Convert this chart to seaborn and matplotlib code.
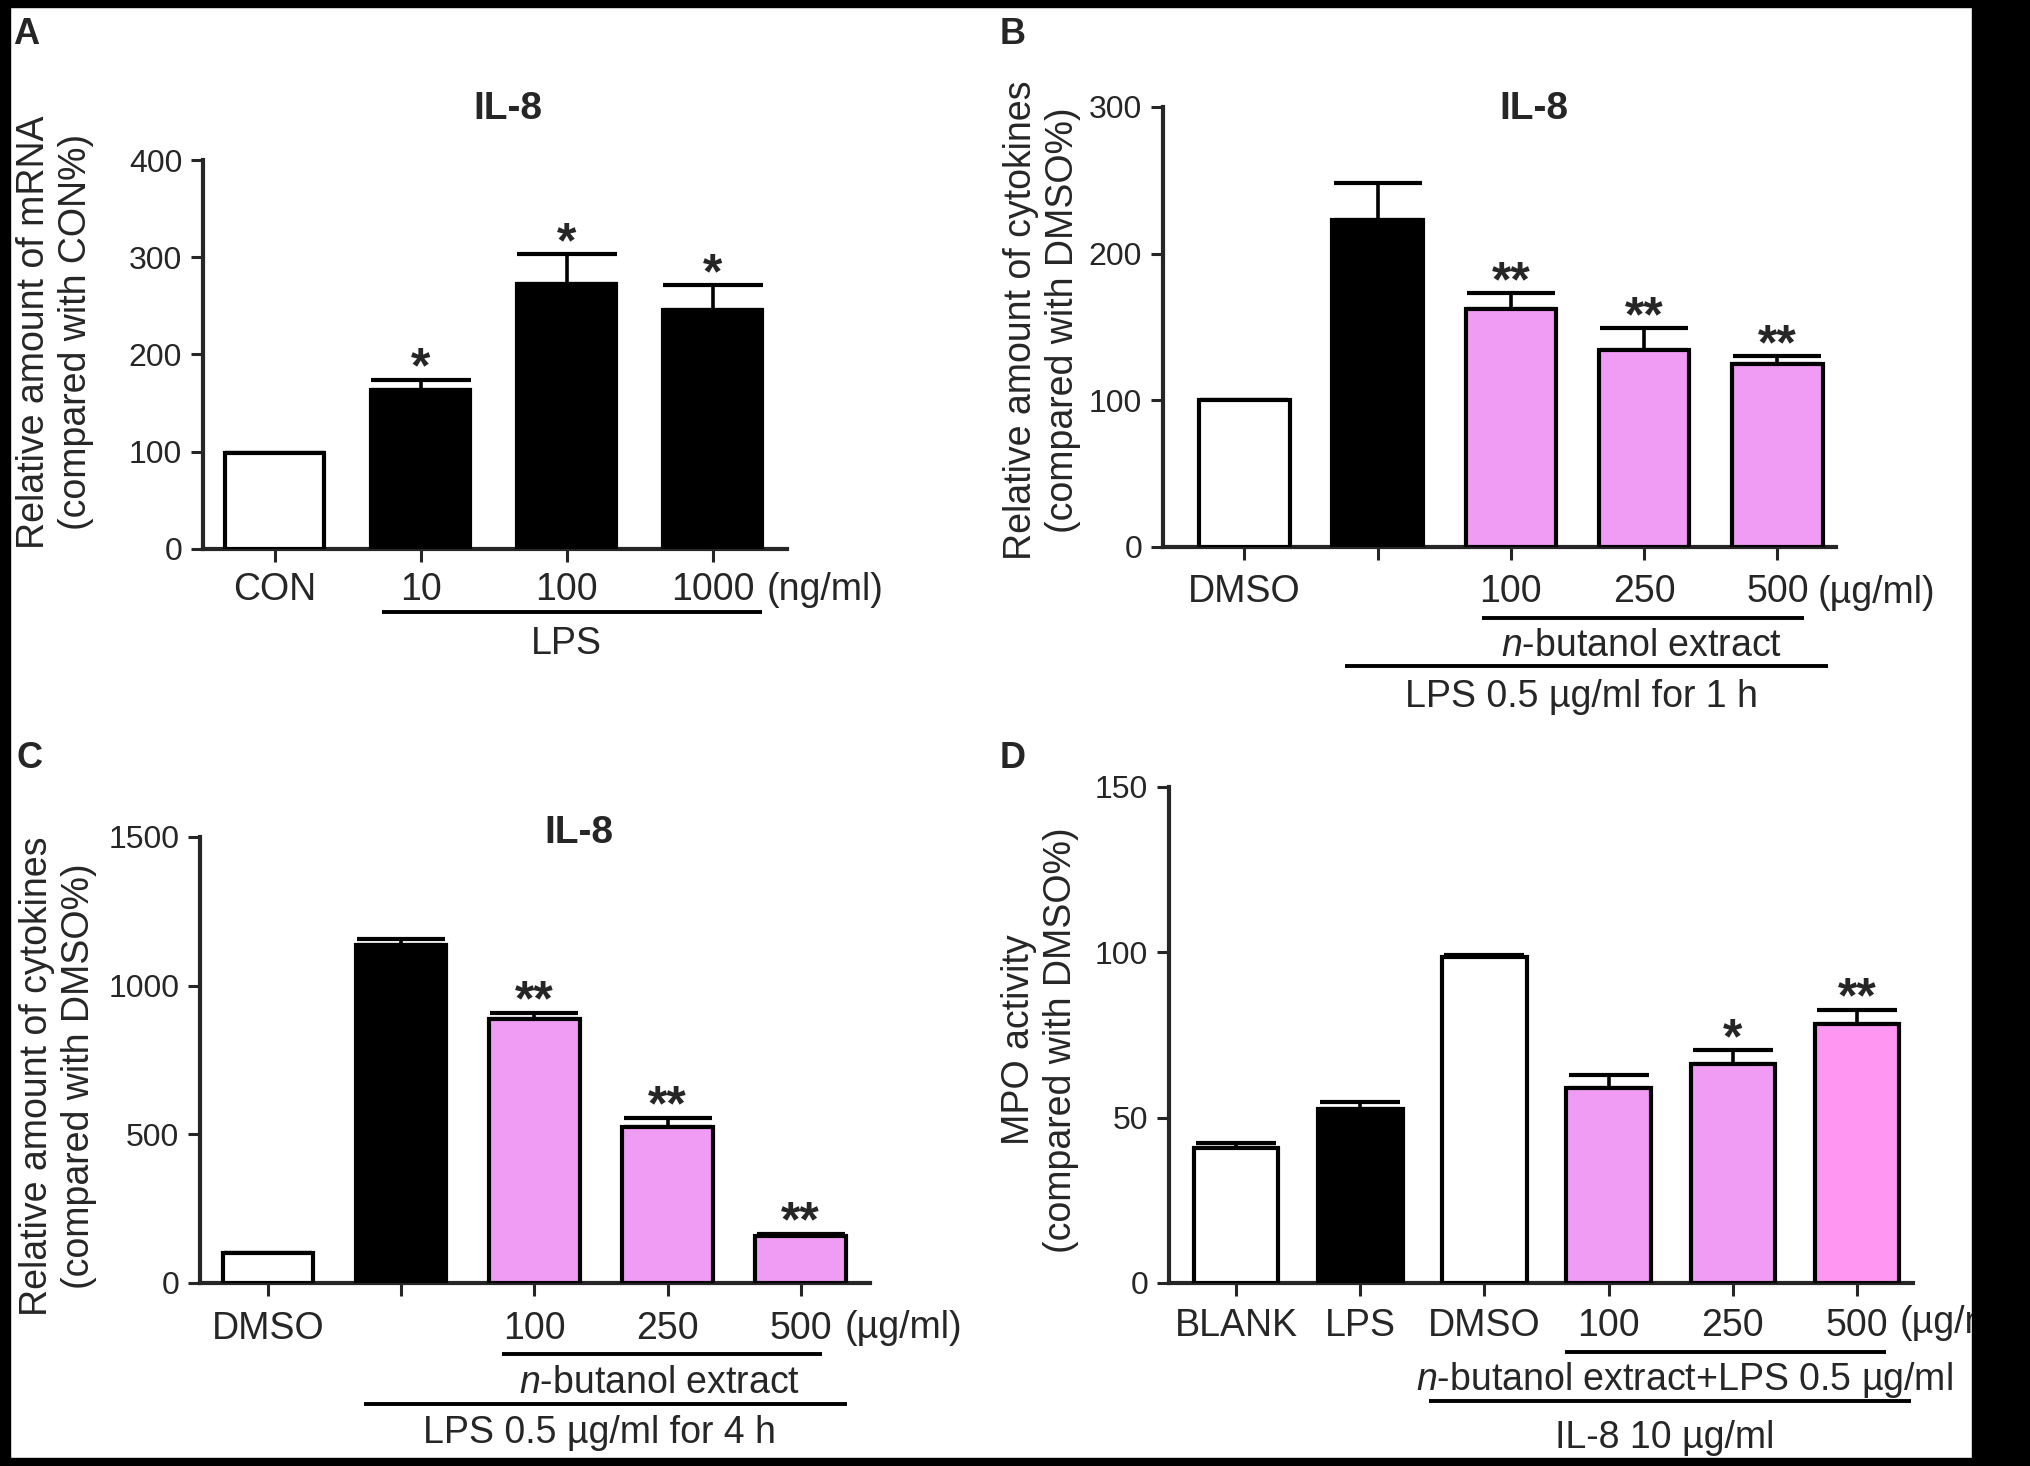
import matplotlib
matplotlib.use("Agg")
import matplotlib.pyplot as plt
import seaborn as sns
import pandas as pd
from matplotlib import transforms
from matplotlib.patches import Rectangle

W, H = 2031, 1466

# panel A: IL-8 mRNA
a_groups = ["CON", "10", "100", "1000"]
a_ticks = ["CON", "10", "100", "1000"]
a_mean = [99, 163, 273, 246]
a_err = [0, 11, 30, 25]
a_stars = ["", "*", "*", "*"]

# panel B: IL-8, LPS 1 h
b_groups = ["DMSO", "LPS", "100", "250", "500"]
b_ticks = ["DMSO", "", "100", "250", "500"]
b_mean = [100, 223, 162, 134, 125]
b_err = [0.5, 25, 11, 15, 5]
b_stars = ["", "", "**", "**", "**"]

# panel C: IL-8, LPS 4 h
c_groups = ["DMSO", "LPS", "100", "250", "500"]
c_ticks = ["DMSO", "", "100", "250", "500"]
c_mean = [102, 1136, 887, 525, 159]
c_err = [0, 20, 22, 30, 7]
c_stars = ["", "", "**", "**", "**"]

# panel D: MPO activity
d_groups = ["BLANK", "LPS", "DMSO", "100", "250", "500"]
d_ticks = ["BLANK", "LPS", "DMSO", "100", "250", "500"]
d_mean = [40.8, 52.6, 98.7, 58.9, 66.3, 78.3]
d_err = [1.5, 2.0, 0.5, 3.9, 4.1, 4.4]
d_stars = ["", "", "", "", "*", "**"]

PINK = "#F09CF5"
PINK2 = "#FF96F2"

sns.set_style("ticks")
plt.rcParams["font.family"] = ["Liberation Sans", "DejaVu Sans"]
plt.rcParams["mathtext.fontset"] = "custom"
plt.rcParams["mathtext.rm"] = "Liberation Sans"
plt.rcParams["mathtext.it"] = "Liberation Sans:italic"

fig = plt.figure(figsize=(W / 100, H / 100), dpi=100)
fig.patch.set_facecolor("white")


def make_ax(left, top, right, bottom):
    return fig.add_axes([left / W, 1 - bottom / H, (right - left) / W, (bottom - top) / H])


def panel(ax, groups, ticks, mean, err, stars, colors, ylim, yticks, xlim, capsize, pad):
    df = pd.DataFrame({"group": groups, "value": mean})
    sns.barplot(data=df, x="group", y="value", hue="group", order=groups,
                hue_order=groups, palette=colors, saturation=1, width=0.68,
                edgecolor="black", linewidth=3, errorbar=None, legend=False,
                ax=ax, zorder=3)
    n = len(groups)
    ax.errorbar(range(n), mean, yerr=[[0] * n, err], fmt="none", ecolor="black",
                elinewidth=2.6, capsize=capsize, capthick=3, zorder=2)
    for i, s in enumerate(stars):
        if s:
            ax.annotate(s, (i, mean[i] + err[i]), xytext=(0, -2),
                        textcoords="offset points", ha="center", va="baseline",
                        fontsize=36, fontweight="bold", annotation_clip=False)
    ax.set_xlim(*xlim)
    ax.set_ylim(*ylim)
    ax.set_yticks(yticks)
    ax.set_xticks(range(n))
    ax.set_xticklabels(ticks)
    ax.set_xlabel("")
    ax.set_ylabel("")
    sns.despine(ax=ax)
    for sp in ("left", "bottom"):
        ax.spines[sp].set_linewidth(3)
    ax.tick_params(axis="y", direction="out", length=8.5, width=2.2, pad=6.5, labelsize=23)
    ax.tick_params(axis="x", direction="out", length=9.5, width=2.2, pad=pad, labelsize=27)


def hline(ax, x0, x1, ypx):
    tr = transforms.blended_transform_factory(ax.transData, fig.transFigure)
    ax.plot([x0, x1], [1 - ypx / H] * 2, transform=tr, color="black", lw=2.8,
            clip_on=False, solid_capstyle="butt")


def label(ax, x, ypx, s, ha="center"):
    tr = transforms.blended_transform_factory(ax.transData, fig.transFigure)
    ax.text(x, 1 - ypx / H, s, transform=tr, ha=ha, va="baseline", fontsize=27)


def ftext(xpx, ypx, s, **kw):
    fig.text(xpx / W, 1 - ypx / H, s, **kw)


# A
axA = make_ax(203, 160, 787, 549)
panel(axA, a_groups, a_ticks, a_mean, a_err, a_stars,
      ["white", "black", "black", "black"], (0, 400), [0, 100, 200, 300, 400],
      (-0.49, 3.51), 36, 7)
label(axA, 3.37, 600, "(ng/ml)", ha="left")
hline(axA, 0.736, 3.339, 612)
label(axA, 2.0, 654, "LPS")

# B
axB = make_ax(1163, 107, 1836, 547)
panel(axB, b_groups, b_ticks, b_mean, b_err, b_stars,
      ["white", "black", PINK, PINK, PINK], (0, 300), [0, 100, 200, 300],
      (-0.61, 4.44), 32, 10)
label(axB, 4.30, 603, "(\u00b5g/ml)", ha="left")
hline(axB, 1.78, 4.20, 618)
label(axB, 2.98, 656, "$\\mathit{n}$-butanol extract")
hline(axB, 0.755, 4.38, 666)
label(axB, 2.53, 707, "LPS 0.5 \u00b5g/ml for 1 h")

# C
axC = make_ax(200, 837, 870, 1283)
panel(axC, c_groups, c_ticks, c_mean, c_err, c_stars,
      ["white", "black", PINK, PINK, PINK], (0, 1500), [0, 500, 1000, 1500],
      (-0.51, 4.52), 32, 11)
label(axC, 4.33, 1338, "(\u00b5g/ml)", ha="left")
hline(axC, 1.757, 4.158, 1354)
label(axC, 2.94, 1393, "$\\mathit{n}$-butanol extract")
hline(axC, 0.72, 4.35, 1404)
label(axC, 2.49, 1443, "LPS 0.5 \u00b5g/ml for 4 h")

# D
axD = make_ax(1169, 787, 1913, 1283)
panel(axD, d_groups, d_ticks, d_mean, d_err, d_stars,
      ["white", "black", "white", PINK, PINK, PINK2], (0, 150), [0, 50, 100, 150],
      (-0.54, 5.45), 29, 8.6)
label(axD, 5.34, 1333, "(\u00b5g/ml)", ha="left")
hline(axD, 2.65, 5.23, 1352)
label(axD, 3.61, 1390, "$\\mathit{n}$-butanol extract+LPS 0.5 \u00b5g/ml")
hline(axD, 1.55, 5.43, 1401)
label(axD, 3.45, 1448, "IL-8 10 \u00b5g/ml")

# titles, y labels, panel letters
for x, y in [(508, 119), (1534, 119), (579, 843)]:
    ftext(x, y, "IL-8", ha="center", va="baseline", fontsize=28, fontweight="bold")

ylab_kw = dict(rotation=90, ha="center", va="center", multialignment="center",
               fontsize=27, linespacing=1.2)
ftext(55, 332, "Relative amount of mRNA\n(compared with CON%)", **ylab_kw)
ftext(1042, 320, "Relative amount of cytokines\n(compared with DMSO%)", **ylab_kw)
ftext(58, 1076, "Relative amount of cytokines\n(compared with DMSO%)", **ylab_kw)
ftext(1040, 1040, "MPO activity\n(compared with DMSO%)", **ylab_kw)

for x, y, s in [(13, 44, "A"), (1000, 44, "B"), (16, 768, "C"), (1000, 768, "D")]:
    ftext(x, y, s, ha="left", va="baseline", fontsize=26, fontweight="bold")

# black frame around the scanned figure
for x, y, w, h in [(0, 0, W, 7), (0, 0, 10, H), (0, 1458, W, 8), (1972, 0, W - 1972, H)]:
    fig.add_artist(Rectangle((x / W, 1 - (y + h) / H), w / W, h / H,
                             transform=fig.transFigure, color="black", zorder=20))

fig.savefig("out.png", dpi=100)
